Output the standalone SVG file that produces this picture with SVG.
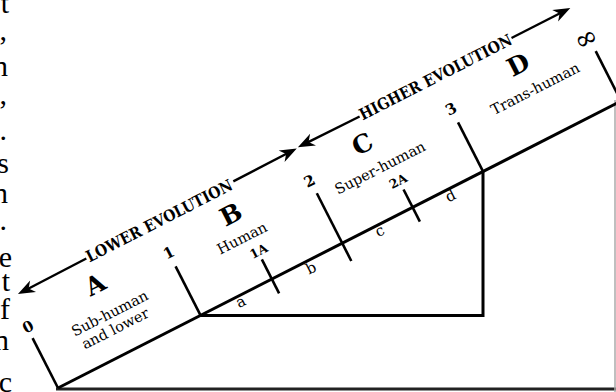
<svg xmlns="http://www.w3.org/2000/svg" width="616" height="392" viewBox="0 0 616 392">
<style>
.ln{stroke:#000;fill:none;stroke-width:3;stroke-linecap:butt}
.tk{stroke:#000;fill:none;stroke-width:2.6}
.ar{stroke:#000;fill:none;stroke-width:2.4}
.ah{fill:#000;stroke:none}
text{font-family:"DejaVu Serif","Liberation Serif",serif;fill:#000;text-anchor:middle;dominant-baseline:central}
.big{font-size:25px;font-weight:bold}
.num{font-size:15px;font-weight:bold}
.sm{font-size:12.5px;font-weight:bold}
.lab{font-size:14.5px}
.seg{font-size:15px}
.evo{font-size:16px;font-weight:bold}
.pg{font-family:"Liberation Serif",serif;font-size:30px;text-anchor:end;dominant-baseline:alphabetic}
</style>
<rect width="616" height="392" fill="#fff"/>
<g id="page-margin">
<text class="pg" x="9" y="13">t</text>
<text class="pg" x="7" y="40">,</text>
<text class="pg" x="8" y="76">n</text>
<text class="pg" x="7" y="104">,</text>
<text class="pg" x="7" y="140">.</text>
<text class="pg" x="9" y="173">s</text>
<text class="pg" x="8" y="203">n</text>
<text class="pg" x="7" y="230">.</text>
<text class="pg" x="12" y="267">e</text>
<text class="pg" x="10" y="291">t</text>
<text class="pg" x="10" y="319">f</text>
<text class="pg" x="9" y="350">n</text>
<text class="pg" x="12" y="392">c</text>
</g>
<g id="connectors">
<path class="ln" d="M200.6,315.4 H483 V171.4"/>
<path d="M56,389 H616" stroke="#222" stroke-width="3" fill="none"/>
<path d="M615,100 V392" stroke="#aaa" stroke-width="1.5" fill="none"/>
</g>
<g id="scale" transform="translate(58,388) rotate(-27)">
<path class="ln" d="M0,0 L720,0"/>
<g id="ticks">
<path class="tk" d="M0,-56 V0"/>
<path class="tk" d="M160,-55 V0"/>
<path class="tk" d="M240,-22 V16"/>
<path class="tk" d="M319,-56 V20"/>
<path class="tk" d="M398,-20 V16"/>
<path class="tk" d="M477,-55 V0"/>
<path class="tk" d="M632,-56 V0"/>
</g>
<g id="lower-evolution">
<path class="ar" d="M84,-102.5 L18,-102"/>
<path class="ah" d="M7,-102 l17,-6.5 l-5,6.5 l5,6.5 z"/>
<path class="ar" d="M250,-104.5 L311,-105"/>
<path class="ah" d="M321.5,-105 l-17,-6.5 l5,6.5 l-5,6.5 z"/>
<text class="evo" x="166" y="-103" textLength="162" lengthAdjust="spacingAndGlyphs">LOWER EVOLUTION</text>
</g>
<g id="higher-evolution">
<path class="ar" d="M392,-105 L334,-105.5"/>
<path class="ah" d="M323,-105.5 l17,-6.5 l-5,6.5 l5,6.5 z"/>
<path class="ar" d="M563,-106 L618,-106"/>
<path class="ah" d="M629,-106 l-17,-6.5 l5,6.5 l-5,6.5 z"/>
<text class="evo" x="477.5" y="-105.5" textLength="169" lengthAdjust="spacingAndGlyphs">HIGHER EVOLUTION</text>
</g>
<g id="node-A">
<text class="num" x="1" y="-68">0</text>
<text class="big" x="80" y="-75">A</text>
<text class="lab" x="80" y="-43">Sub-human</text>
<text class="lab" x="78" y="-27">and lower</text>
</g>
<g id="node-B">
<text class="num" x="160" y="-70">1</text>
<text class="big" x="233" y="-76">B</text>
<text class="lab" x="232" y="-50">Human</text>
<text class="sm" x="241" y="-31">1A</text>
<text class="seg" x="202" y="6">a</text>
<text class="seg" x="280" y="8">b</text>
</g>
<g id="node-C">
<text class="num" x="318" y="-70">2</text>
<text class="big" x="382" y="-79">C</text>
<text class="lab" x="387" y="-50">Super-human</text>
<text class="sm" x="397" y="-30">2A</text>
<text class="seg" x="358" y="6">c</text>
<text class="seg" x="437" y="7">d</text>
</g>
<g id="node-D">
<text class="num" x="477" y="-70">3</text>
<text class="big" x="557" y="-79">D</text>
<text class="lab" x="561" y="-50">Trans-human</text>
<text x="629" y="-72" font-size="28">∞</text>
</g>
</g>
</svg>
